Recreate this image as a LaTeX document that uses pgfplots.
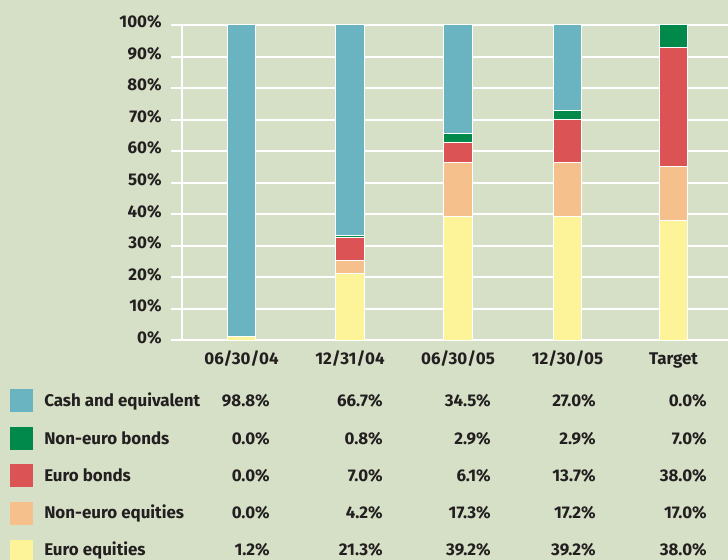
\documentclass[border=0pt]{standalone}
\usepackage{fontspec}
\setmainfont{Fira Sans}
\usepackage{pgfplots}
\pgfplotsset{compat=1.18}
\definecolor{bg}{HTML}{D5E0C6}
\definecolor{cteal}{HTML}{6AB4C1}
\definecolor{cgreen}{HTML}{00894A}
\definecolor{cred}{HTML}{DC5356}
\definecolor{cpeach}{HTML}{F6C08C}
\definecolor{cyellow}{HTML}{FDF49A}
\definecolor{txt}{HTML}{231F20}
\newcommand\tf{\fontsize{12.7}{15}\selectfont\bfseries}
\begin{document}
\begin{tikzpicture}[font=\tf, text=txt]
\fill[bg] (0,0) rectangle (546pt,420pt);
\useasboundingbox (0,0) rectangle (546pt,420pt);
\begin{axis}[
  at={(136.5pt,164.625pt)}, anchor=south west,
  scale only axis, width=409.5pt, height=236.625pt,
  xmin=182, xmax=728, ymin=0, ymax=100,
  ybar stacked, bar width=21.5pt,
  axis x line=bottom, axis y line=left,
  axis line style={draw=white, line width=1.5pt, -},
  ymajorgrids, grid style={white, line width=1.5pt},
  ytick={0,10,...,100},
  yticklabels={0\%,10\%,20\%,30\%,40\%,50\%,60\%,70\%,80\%,90\%,100\%},
  xtick={241.5,350,458,567.5,673.5},
  xticklabels={06/30/04,12/31/04,06/30/05,12/30/05,Target},
  tick align=outside, major tick length=8.25pt,
  ytick style={draw=white, line width=1.5pt},
  xtick style={draw=none},
  tick label style={font=\tf, text=txt},
  yticklabel style={xshift=-3.5pt, yshift=2.25pt},
  xticklabel style={yshift=3pt, text height=9.5pt, text depth=2pt},
  clip=false,
]
\addplot[fill=cyellow, draw=white, line width=0.75pt] coordinates {(241.5,1.2) (350,21.3) (458,39.2) (567.5,39.2) (673.5,38.0)};
\addplot[fill=cpeach, draw=white, line width=0.75pt] coordinates {(241.5,0) (350,4.2) (458,17.3) (567.5,17.2) (673.5,17.0)};
\addplot[fill=cred, draw=white, line width=0.75pt] coordinates {(241.5,0) (350,7.0) (458,6.1) (567.5,13.7) (673.5,38.0)};
\addplot[fill=cgreen, draw=white, line width=0.75pt] coordinates {(241.5,0) (350,0.8) (458,2.9) (567.5,2.9) (673.5,7.0)};
\addplot[fill=cteal, draw=white, line width=0.75pt] coordinates {(241.5,98.8) (350,66.7) (458,34.5) (567.5,27.0) (673.5,0.0)};
\end{axis}
\begin{scope}[shift={(0,420pt)}, x=0.75pt, y=-0.75pt]
\fill[cteal] (10,389) rectangle (33,412);
\fill[cgreen] (10,427) rectangle (33,450);
\fill[cred] (10,464) rectangle (33,487);
\fill[cpeach] (10,502) rectangle (33,525);
\fill[cyellow] (10,540) rectangle (33,563);
\foreach \lab/\a/\b/\c/\d/\e [count=\i from 0] in {
  Cash and equivalent/98.8/66.7/34.5/27.0/0.0,
  Non-euro bonds/0.0/0.8/2.9/2.9/7.0,
  Euro bonds/0.0/7.0/6.1/13.7/38.0,
  Non-euro equities/0.0/4.2/17.3/17.2/17.0,
  Euro equities/1.2/21.3/39.2/39.2/38.0}{
  \pgfmathsetmacro\yy{407+37.2*\i}
  \node[anchor=base west, inner sep=0] at (44,\yy) {\lab};
  \node[anchor=base east, inner sep=0] at (270,\yy) {\a\%};
  \node[anchor=base east, inner sep=0] at (383,\yy) {\b\%};
  \node[anchor=base east, inner sep=0] at (491,\yy) {\c\%};
  \node[anchor=base east, inner sep=0] at (596,\yy) {\d\%};
  \node[anchor=base east, inner sep=0] at (707,\yy) {\e\%};
}
\end{scope}
\end{tikzpicture}
\end{document}
